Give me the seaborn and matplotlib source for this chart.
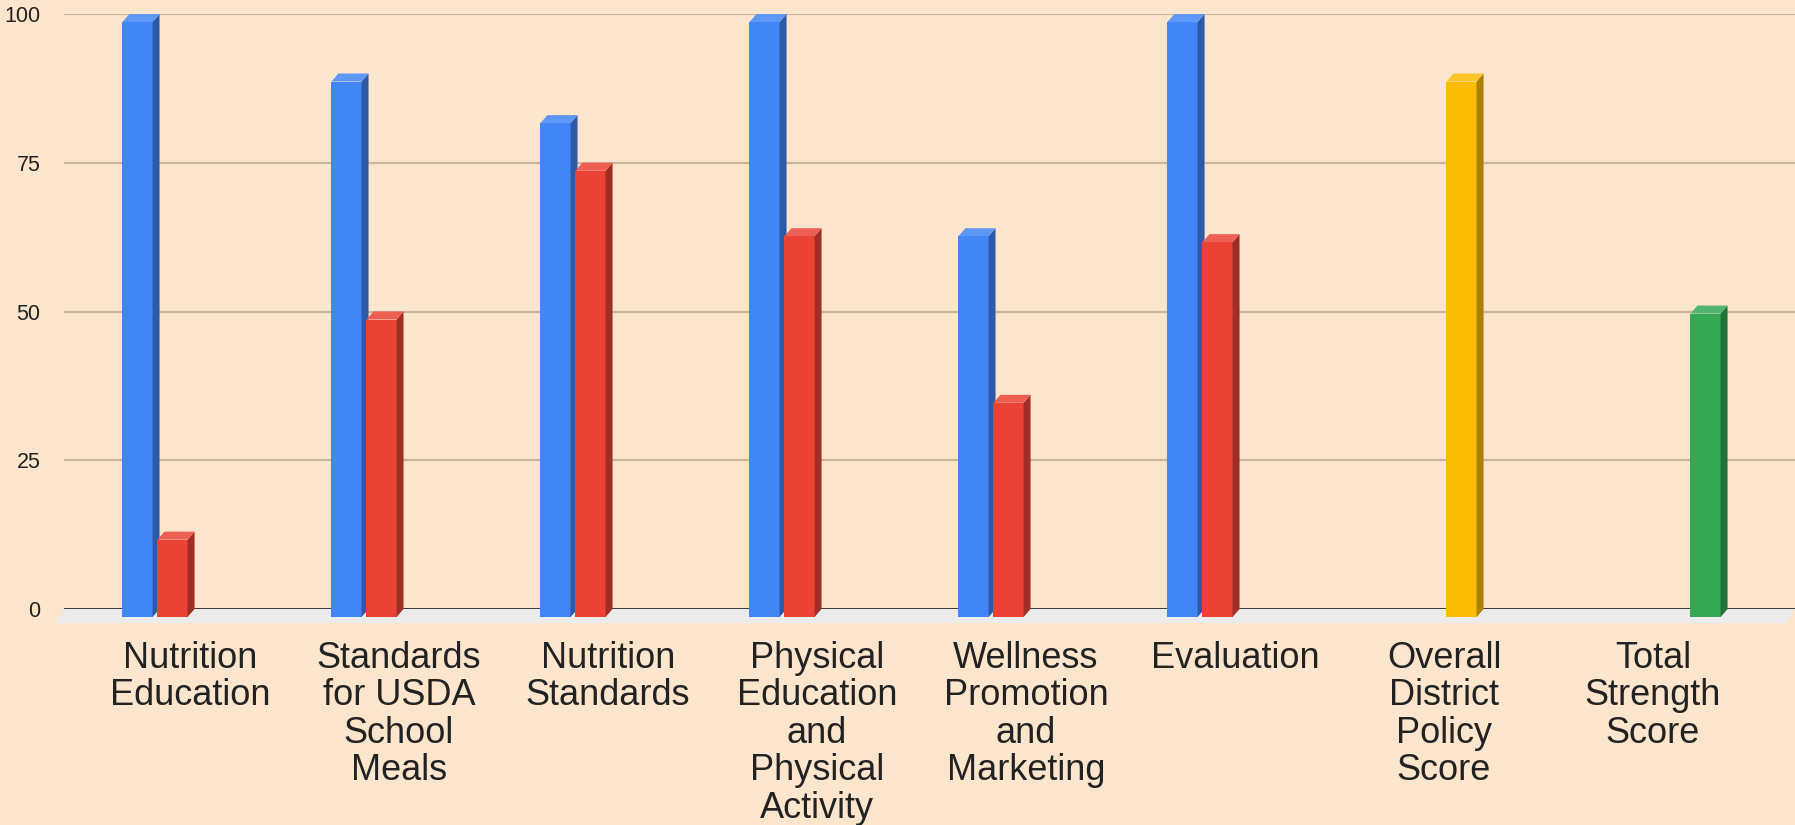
import numpy as np
import pandas as pd
import matplotlib
matplotlib.use('Agg')
import matplotlib.pyplot as plt
from matplotlib.patches import Polygon
import seaborn as sns

# chart values
categories = ['Nutrition\nEducation', 'Standards\nfor USDA\nSchool\nMeals', 'Nutrition\nStandards',
              'Physical\nEducation\nand\nPhysical\nActivity', 'Wellness\nPromotion\nand\nMarketing',
              'Evaluation', 'Overall\nDistrict\nPolicy\nScore', 'Total\nStrength\nScore']
comprehensiveness = [100, 90, 83, 100, 64, 100, np.nan, np.nan]
strength = [13, 50, 75, 64, 36, 63, np.nan, np.nan]
overall_score = [np.nan] * 6 + [90, np.nan]
total_score = [np.nan] * 7 + [51]
series = ['Comprehensiveness', 'Strength', 'Overall', 'Total']
colors = ['#4285f4', '#ea4335', '#fbbc04', '#34a853']
yticks = [0, 25, 50, 75, 100]

df = pd.DataFrame({'Category': categories, 'Comprehensiveness': comprehensiveness,
                   'Strength': strength, 'Overall': overall_score, 'Total': total_score})
long_df = df.melt(id_vars='Category', var_name='Series', value_name='Score').dropna()

bg = '#fce5cd'
sns.set_style('white', {'axes.facecolor': bg, 'figure.facecolor': bg})
plt.rcParams['font.family'] = ['Liberation Sans', 'DejaVu Sans']

W, H = 1795, 825
fig = plt.figure(figsize=(W / 100, H / 100), dpi=100)
ax = fig.add_axes([64 / W, (H - 609) / H, 1 - 64 / W, (609 - 14) / H])

sns.barplot(data=long_df, x='Category', y='Score', hue='Series', order=categories,
            hue_order=series, palette=colors, width=0.67, gap=0.14, saturation=1,
            errorbar=None, legend=False, ax=ax, zorder=3)

ax.set_xlim(-(190 - 64) / 209, (W - 190) / 209)
ax.set_ylim(0, 100)
for s in ax.spines.values():
    s.set_visible(False)
ax.set_yticks(yticks)
ax.set_yticklabels([str(v) for v in yticks])
ax.set_xlabel('')
ax.set_ylabel('')
ax.tick_params(axis='y', length=0, pad=17, labelsize=15.5, labelcolor='#222222')
ax.tick_params(axis='x', length=0, pad=23, labelsize=26, labelcolor='#222222')
for lab in ax.get_xticklabels():
    lab.set_linespacing(1.09)

for v in yticks[1:]:
    ax.axhline(v, color='#c9b59e', lw=1.6, zorder=1)

# pixel -> data conversions for the 3d look
p0 = ax.transData.transform((0, 0))
ppx = ax.transData.transform((1, 0))[0] - p0[0]
ppy = ax.transData.transform((0, 1))[1] - p0[1]
dx, dy = 7 / ppx, 8 / ppy

# floor strip under the baseline
x0, x1 = ax.get_xlim()
floor = Polygon([(x0, 0), (x1, 0), (x1 - 9 / ppx, -14 / ppy), (x0 - 9 / ppx, -14 / ppy)],
                closed=True, facecolor='#ebebeb', edgecolor='none', zorder=1.5, clip_on=False)
ax.add_patch(floor)
ax.axhline(0, color='#2b2b2b', lw=2, zorder=1.8)


def shade(c, f):
    r = np.array(matplotlib.colors.to_rgb(c))
    return tuple(r * f) if f < 1 else tuple(r + (1 - r) * (f - 1))


bars = [b for b in ax.patches if b is not floor and np.isfinite(b.get_height()) and b.get_height() > 0]
for i, b in enumerate(bars):
    bx, bw, bh = b.get_x(), b.get_width(), b.get_height()
    c = b.get_facecolor()
    z = 3 + i * 0.01
    b.set_y(-dy)
    b.set_clip_on(False)
    b.set_edgecolor('none')
    b.set_zorder(z)
    side = Polygon([(bx + bw, -dy), (bx + bw, bh - dy), (bx + bw + dx, bh), (bx + bw + dx, 0)],
                   facecolor=shade(c, 0.68), edgecolor='none', zorder=z, clip_on=False)
    top = Polygon([(bx, bh - dy), (bx + bw, bh - dy), (bx + bw + dx, bh), (bx + dx, bh)],
                  facecolor=shade(c, 1.15), edgecolor='none', zorder=z, clip_on=False)
    ax.add_patch(side)
    ax.add_patch(top)

fig.savefig('out.png', dpi=100, facecolor=bg)
